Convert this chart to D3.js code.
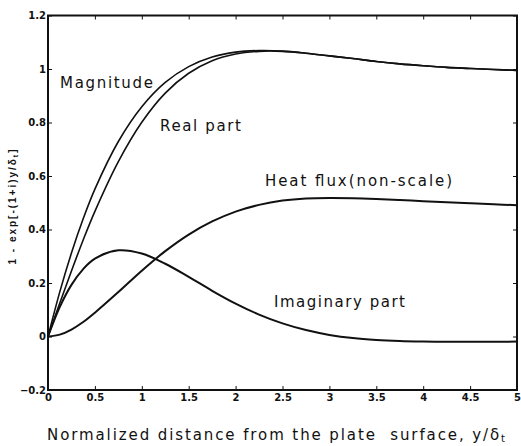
<!DOCTYPE html>
<html>
<head>
<meta charset="utf-8">
<script src="https://cdn.jsdelivr.net/npm/d3@7"></script>
<style>
  body { margin: 0; background: #fff; }
  svg { display: block; }
  .tick text { font-family: "DejaVu Sans", sans-serif; font-weight: bold; font-size: 10px; }
  .note { font-family: "DejaVu Sans", sans-serif; font-size: 15px; fill: #111; white-space: pre; }
</style>
</head>
<body>
<div id="chart"></div>
<script>
const xs = [0, 0.125, 0.25, 0.375, 0.5, 0.75, 1, 1.25, 1.5, 1.75, 2, 2.25, 2.5,
            2.75, 3, 3.25, 3.5, 3.75, 4, 4.25, 4.5, 4.75, 5];
const magnitude = [0, 0.166, 0.312, 0.440, 0.551, 0.729, 0.859, 0.950, 1.009, 1.045, 1.063, 1.069, 1.067,
                   1.059, 1.049, 1.039, 1.028, 1.019, 1.012, 1.006, 1.002, 0.998, 0.995];
const realPart = [0, 0.124, 0.245, 0.361, 0.468, 0.654, 0.801, 0.910, 0.984, 1.031, 1.056, 1.066, 1.066,
                  1.059, 1.049, 1.039, 1.028, 1.019, 1.012, 1.006, 1.002, 0.998, 0.995];
const imagPart = [0, 0.110, 0.193, 0.252, 0.291, 0.322, 0.310, 0.272, 0.223, 0.171, 0.123, 0.082, 0.049,
                  0.024, 0.006, -0.006, -0.013, -0.017, -0.019, -0.020, -0.020, -0.020, -0.019];
const heatFlux = [0, 0.007, 0.026, 0.054, 0.089, 0.166, 0.246, 0.319, 0.381, 0.430, 0.467, 0.492, 0.508,
                  0.516, 0.518, 0.517, 0.514, 0.510, 0.506, 0.502, 0.498, 0.494, 0.491];
const xTicks = [0, 0.5, 1, 1.5, 2, 2.5, 3, 3.5, 4, 4.5, 5];
const yTicks = [-0.2, 0, 0.2, 0.4, 0.6, 0.8, 1, 1.2];

const width = 521, height = 446;
const plotLeft = 48, plotRight = 517, plotTop = 15.5, plotBottom = 390;

const svg = d3.select("#chart").append("svg")
    .attr("width", width)
    .attr("height", height);

const x = d3.scaleLinear().domain([0, 5]).range([plotLeft, plotRight]);
const y = d3.scaleLinear().domain([-0.2, 1.2]).range([plotBottom, plotTop]);

// axes, ticks point inwards on all four sides
svg.append("g")
    .attr("transform", "translate(0," + plotBottom + ")")
    .call(d3.axisBottom(x).tickValues(xTicks).tickSize(-4).tickPadding(4)
        .tickFormat(d => d3.format("")(d)));
svg.append("g")
    .attr("transform", "translate(0," + plotTop + ")")
    .call(d3.axisTop(x).tickValues(xTicks).tickSize(-4).tickFormat(""));
svg.append("g")
    .attr("transform", "translate(" + plotLeft + ",0)")
    .call(d3.axisLeft(y).tickValues(yTicks).tickSize(-4).tickPadding(2)
        .tickFormat(d => d3.format("")(+d.toFixed(1))));
svg.append("g")
    .attr("transform", "translate(" + plotRight + ",0)")
    .call(d3.axisRight(y).tickValues(yTicks).tickSize(-4).tickFormat(""));

svg.selectAll(".domain").remove();
svg.selectAll(".tick line").attr("stroke", "#111").attr("stroke-width", 1);
svg.selectAll(".tick text").attr("fill", "#111");

svg.append("rect")
    .attr("x", plotLeft).attr("y", plotTop)
    .attr("width", plotRight - plotLeft).attr("height", plotBottom - plotTop)
    .attr("fill", "none").attr("stroke", "#111").attr("stroke-width", 2);

// curves
const line = d3.line()
    .x((d, i) => x(xs[i]))
    .y(d => y(d))
    .curve(d3.curveCatmullRom.alpha(0.5));

const series = [
    { values: magnitude, w: 1.6 },
    { values: realPart, w: 1.6 },
    { values: imagPart, w: 2 },
    { values: heatFlux, w: 2 }
];
svg.append("g").selectAll("path")
    .data(series)
    .enter()
    .append("path")
    .attr("d", d => line(d.values))
    .attr("fill", "none")
    .attr("stroke", "#111")
    .attr("stroke-width", d => d.w);

// curve labels
const notes = [
    { text: "Magnitude", x: 60, y: 88, len: 93 },
    { text: "Real part", x: 160, y: 131, len: 81 },
    { text: "Heat flux(non-scale)", x: 265, y: 186, len: 187 },
    { text: "Imaginary part", x: 274, y: 307, len: 131 }
];
svg.append("g").selectAll("text")
    .data(notes)
    .enter()
    .append("text")
    .attr("class", "note")
    .attr("x", d => d.x)
    .attr("y", d => d.y)
    .attr("textLength", d => d.len)
    .attr("lengthAdjust", "spacing")
    .text(d => d.text);

// axis titles
const xTitle = svg.append("text")
    .attr("class", "note")
    .attr("x", 47)
    .attr("y", 440)
    .attr("textLength", 458)
    .attr("lengthAdjust", "spacing");
xTitle.append("tspan").text("Normalized distance from the plate  surface, y/δ");
xTitle.append("tspan").attr("font-size", "10px").attr("dy", 2).text("t");

const yTitle = svg.append("text")
    .attr("transform", "translate(16,207) rotate(-90)")
    .attr("text-anchor", "middle")
    .attr("font-family", "Liberation Sans, Arial, sans-serif")
    .attr("font-weight", "bold")
    .attr("font-size", "10px")
    .attr("fill", "#111")
    .attr("textLength", 115)
    .attr("lengthAdjust", "spacing");
yTitle.append("tspan").text("1 - exp[-(1+i)y/δ");
yTitle.append("tspan").attr("font-size", "7px").attr("dy", 2).text("t");
yTitle.append("tspan").attr("dy", -2).text("]");
</script>
</body>
</html>
